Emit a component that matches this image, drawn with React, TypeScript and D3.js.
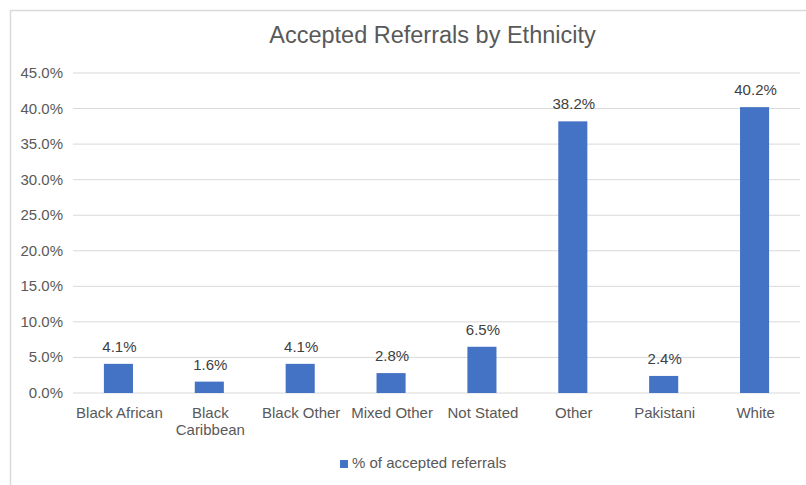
import React from "react";
import * as d3 from "d3";

const categories = ["Black African", "Black Caribbean", "Black Other", "Mixed Other", "Not Stated", "Other", "Pakistani", "White"];
const values = [4.1, 1.6, 4.1, 2.8, 6.5, 38.2, 2.4, 40.2];
const yTicks = [0, 5, 10, 15, 20, 25, 30, 35, 40, 45];
const seriesName = "% of accepted referrals";
const title = "Accepted Referrals by Ethnicity";

const W = 806, H = 485;
const FONT = "'Liberation Sans', Arial, Helvetica, sans-serif";

export default function App() {
  const x = d3.scaleBand<string>().domain(categories).range([73, 800]).paddingInner(0.68).paddingOuter(0.34);
  const y = d3.scaleLinear().domain([0, 45]).range([393, 73]);
  const wrap = (s: string) => (s === "Black Caribbean" ? ["Black", "Caribbean"] : [s]);
  return (
    <svg width={W} height={H} style={{ position: "absolute", left: 0, top: 0, background: "#fff" }} fontFamily={FONT}>
      <rect x={10.5} y={10.5} width={W + 10} height={H + 10} fill="#fff" stroke="#d9d9d9" strokeWidth={1.5} />
      <text x={432.5} y={43} textAnchor="middle" fontSize={23.5} fill="#595959">{title}</text>
      {yTicks.map((t) => (
        <g key={t}>
          <line x1={73} x2={800} y1={y(t)} y2={y(t)} stroke="#d9d9d9" strokeWidth={1} />
          <text x={63} y={y(t) + 5} textAnchor="end" fontSize={15} fill="#595959">{t.toFixed(1) + "%"}</text>
        </g>
      ))}
      {categories.map((c, i) => {
        const bx = x(c)!;
        const bw = x.bandwidth();
        const cx = bx + bw / 2;
        return (
          <g key={c}>
            <rect x={bx} y={y(values[i])} width={bw} height={y(0) - y(values[i])} fill="#4472c4" />
            <text x={cx + 1} y={y(values[i]) - 12} textAnchor="middle" fontSize={15} fill="#404040">{values[i].toFixed(1) + "%"}</text>
            {wrap(c).map((line, j) => (
              <text key={j} x={cx + 1} y={418 + j * 17} textAnchor="middle" fontSize={15} fill="#595959">{line}</text>
            ))}
          </g>
        );
      })}
      <rect x={340} y={460} width={8} height={8} fill="#4472c4" />
      <text x={352} y={468} fontSize={15} fill="#595959">{seriesName}</text>
    </svg>
  );
}
